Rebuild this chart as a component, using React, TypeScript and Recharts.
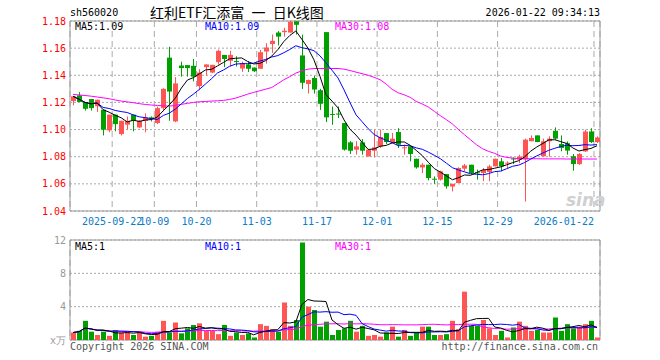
import { Bar, CartesianGrid, Cell, ComposedChart, Line, ReferenceArea, XAxis, YAxis } from "recharts";

const MONO = "'DejaVu Sans Mono', 'Liberation Mono', monospace";
const RED = "#ff5555";
const GREEN = "#00a000";

const dates = [
  "2025-09-11", "2025-09-12", "2025-09-15", "2025-09-16", "2025-09-17", "2025-09-18", "2025-09-19",
  "2025-09-22", "2025-09-23", "2025-09-24", "2025-09-25", "2025-09-26", "2025-09-29", "2025-09-30",
  "2025-10-09", "2025-10-10", "2025-10-13", "2025-10-14", "2025-10-15", "2025-10-16", "2025-10-17",
  "2025-10-20", "2025-10-21", "2025-10-22", "2025-10-23", "2025-10-24", "2025-10-27", "2025-10-28",
  "2025-10-29", "2025-10-30", "2025-10-31", "2025-11-03", "2025-11-04", "2025-11-05", "2025-11-06",
  "2025-11-07", "2025-11-10", "2025-11-11", "2025-11-12", "2025-11-13", "2025-11-14", "2025-11-17",
  "2025-11-18", "2025-11-19", "2025-11-20", "2025-11-21", "2025-11-24", "2025-11-25", "2025-11-26",
  "2025-11-27", "2025-11-28", "2025-12-01", "2025-12-02", "2025-12-03", "2025-12-04", "2025-12-05",
  "2025-12-08", "2025-12-09", "2025-12-10", "2025-12-11", "2025-12-12", "2025-12-15", "2025-12-16",
  "2025-12-17", "2025-12-18", "2025-12-19", "2025-12-22", "2025-12-23", "2025-12-24", "2025-12-25",
  "2025-12-26", "2025-12-29", "2025-12-30", "2025-12-31", "2026-01-05", "2026-01-06", "2026-01-07",
  "2026-01-08", "2026-01-09", "2026-01-12", "2026-01-13", "2026-01-14", "2026-01-15", "2026-01-16",
  "2026-01-19", "2026-01-20", "2026-01-21", "2026-01-22",
];

const open = [
  1.121, 1.1252, 1.1203, 1.1225, 1.1172, 1.1146, 1.0994, 1.111, 1.0967, 1.1036,
  1.111, 1.1016, 1.1065, 1.109, 1.1048, 1.1158, 1.153, 1.106, 1.1472, 1.1475,
  1.147, 1.132, 1.146, 1.142, 1.1497, 1.155, 1.1507, 1.1505, 1.145, 1.148,
  1.1457, 1.1448, 1.1575, 1.163, 1.1715, 1.1718, 1.1715, 1.1798, 1.1546, 1.1335,
  1.138, 1.129, 1.1718, 1.1115, 1.1118, 1.1048, 1.0906, 1.0852, 1.0906, 1.0802,
  1.0844, 1.0876, 1.0974, 1.0908, 1.0982, 1.0865, 1.0876, 1.0785, 1.0721, 1.0741,
  1.0638, 1.0631, 1.0672, 1.058, 1.0606, 1.0712, 1.0741, 1.0685, 1.068, 1.0687,
  1.0729, 1.0766, 1.0753, 1.0787, 1.0778, 1.078, 1.0914, 1.0957, 1.0803, 1.0914,
  1.0991, 1.0894, 1.09, 1.0803, 1.0746, 1.0839, 1.0986, 1.0908,
];

const close = [
  1.1245, 1.1203, 1.1153, 1.1158, 1.122, 1.0999, 1.111, 1.104, 1.1065, 1.1065,
  1.1065, 1.1065, 1.109, 1.1085, 1.1158, 1.13, 1.128, 1.134, 1.1453, 1.1453,
  1.139, 1.142, 1.148, 1.1477, 1.158, 1.152, 1.155, 1.15, 1.149, 1.1448,
  1.143, 1.157, 1.1605, 1.1654, 1.1685, 1.1728, 1.1795, 1.1772, 1.1345, 1.1365,
  1.1295, 1.119, 1.109, 1.111, 1.1113, 1.0852, 1.0844, 1.0876, 1.0844, 1.0852,
  1.0869, 1.0945, 1.0908, 1.0933, 1.0888, 1.0869, 1.082, 1.0721, 1.0741, 1.0643,
  1.0635, 1.0692, 1.0582, 1.06, 1.0717, 1.0736, 1.068, 1.068, 1.0702, 1.0729,
  1.0785, 1.0729, 1.0756, 1.0783, 1.0802, 1.0926, 1.0938, 1.0908, 1.0914, 1.0933,
  1.0933, 1.0865, 1.0845, 1.0746, 1.082, 1.0986, 1.0908, 1.0942,
];

const high = [
  1.1245, 1.1276, 1.1203, 1.1225, 1.122, 1.1146, 1.111, 1.111, 1.1065, 1.1097,
  1.111, 1.107, 1.112, 1.1097, 1.117, 1.1305, 1.161, 1.1387, 1.15, 1.1475,
  1.152, 1.1445, 1.148, 1.1477, 1.159, 1.155, 1.158, 1.154, 1.15, 1.1503,
  1.1457, 1.1587, 1.1637, 1.17, 1.1725, 1.175, 1.18, 1.18, 1.17, 1.1368,
  1.1395, 1.13, 1.1718, 1.117, 1.117, 1.1048, 1.0915, 1.0914, 1.093, 1.0852,
  1.1, 1.1, 1.0975, 1.0975, 1.101, 1.089, 1.0876, 1.0785, 1.0753, 1.0741,
  1.0655, 1.0697, 1.0672, 1.06, 1.0722, 1.0746, 1.0741, 1.0705, 1.0717, 1.0741,
  1.0785, 1.079, 1.0766, 1.0795, 1.0815, 1.0933, 1.0957, 1.0957, 1.0933, 1.095,
  1.1016, 1.0957, 1.0913, 1.082, 1.0827, 1.0999, 1.101, 1.095,
];

const low = [
  1.118, 1.1203, 1.114, 1.114, 1.113, 1.0957, 1.098, 1.0987, 1.0957, 1.1,
  1.0987, 1.101, 1.098, 1.106, 1.104, 1.1135, 1.1065, 1.1055, 1.139, 1.139,
  1.1355, 1.129, 1.1395, 1.1415, 1.148, 1.146, 1.1465, 1.1465, 1.1425, 1.1425,
  1.1425, 1.1448, 1.1486, 1.1565, 1.162, 1.1685, 1.1715, 1.17, 1.13, 1.1265,
  1.1265, 1.1145, 1.1055, 1.1035, 1.1085, 1.0845, 1.082, 1.0815, 1.0815, 1.0802,
  1.0795, 1.0865, 1.0894, 1.09, 1.0864, 1.0815, 1.0766, 1.0712, 1.068, 1.0626,
  1.06, 1.0624, 1.0565, 1.0545, 1.0606, 1.0692, 1.0672, 1.0631, 1.062, 1.062,
  1.0729, 1.0692, 1.0717, 1.0746, 1.0753, 1.047, 1.0914, 1.0908, 1.0803, 1.08,
  1.0926, 1.084, 1.0815, 1.0697, 1.0739, 1.0835, 1.0901, 1.0901,
];

// 成交量 (万)
const volume = [
  0.9, 1.1, 2.3, 1.0, 0.6, 1.0, 0.5, 1.2, 0.9, 0.9,
  0.6, 0.9, 0.4, 0.5, 1.0, 2.3, 0.9, 2.1, 0.8, 1.4,
  1.8, 2.0, 1.1, 1.1, 0.7, 1.8, 0.5, 0.9, 0.6, 0.8,
  0.3, 1.9, 1.7, 1.3, 1.0, 4.5, 1.7, 2.4, 11.7, 4.0,
  3.6, 1.6, 2.2, 0.6, 1.2, 1.4, 2.3, 1.0, 1.7, 0.5,
  0.6, 0.4, 0.9, 1.6, 0.4, 1.2, 0.5, 0.9, 1.6, 1.6,
  0.6, 0.6, 0.7, 2.3, 1.3, 5.8, 1.7, 1.7, 2.4, 1.4,
  0.6, 1.1, 0.3, 1.5, 2.2, 1.7, 1.1, 1.2, 0.9, 0.9,
  2.7, 1.1, 1.9, 1.4, 1.6, 1.9, 2.3, 0.3,
];

// MA30 as drawn (needs history before the first candle)
const ma30Price = [
  1.1259, 1.1255, 1.1251, 1.1246, 1.124, 1.1234, 1.1227, 1.1218, 1.121, 1.1204,
  1.1198, 1.1191, 1.1185, 1.1181, 1.1178, 1.1175, 1.1173, 1.1178, 1.1186, 1.1193,
  1.12, 1.1205, 1.1207, 1.121, 1.1212, 1.1215, 1.1222, 1.1232, 1.1246, 1.1261,
  1.1274, 1.1286, 1.1298, 1.131, 1.1338, 1.1367, 1.139, 1.1416, 1.1433, 1.1445,
  1.145, 1.145, 1.145, 1.145, 1.145, 1.1445, 1.1435, 1.1423, 1.1412, 1.14,
  1.1385, 1.1367, 1.1335, 1.1296, 1.1271, 1.1256, 1.1237, 1.1207, 1.1188, 1.1166,
  1.1134, 1.1102, 1.1073, 1.1041, 1.1, 1.0962, 1.0925, 1.0888, 1.0859, 1.0839,
  1.0825, 1.0805, 1.0795, 1.079, 1.0786, 1.0785, 1.0785, 1.0785, 1.0784, 1.0784,
  1.0784, 1.0784, 1.0783, 1.0783, 1.0783, 1.0783, 1.0783, 1.0783,
];

const tickDates = ["2025-09-22", "2025-10-09", "2025-10-20", "2025-11-03", "2025-11-17", "2025-12-01", "2025-12-15", "2025-12-29", "2026-01-22"];
const tickLabels = ["2025-09-22", "10-09", "10-20", "11-03", "11-17", "12-01", "12-15", "12-29", "2026-01-22"];
const priceTicks = [1.04, 1.06, 1.08, 1.1, 1.12, 1.14, 1.16, 1.18];
const volTicks = [0, 4, 8, 12];

const movingAvg = (arr: number[], n: number) =>
  arr.map((_, i) => {
    const s = arr.slice(Math.max(0, i - n + 1), i + 1);
    return s.reduce((a, b) => a + b, 0) / s.length;
  });

const ma5 = movingAvg(close, 5);
const ma10 = movingAvg(close, 10);
const vma5 = movingAvg(volume, 5);
const vma10 = movingAvg(volume, 10);
const vma30 = movingAvg(volume, 30);

const rows = dates.map((date, i) => ({
  i,
  date,
  open: open[i],
  close: close[i],
  high: high[i],
  low: low[i],
  range: [low[i], high[i]],
  ma5: ma5[i],
  ma10: ma10[i],
  ma30: ma30Price[i],
  vol: volume[i],
  vma5: vma5[i],
  vma10: vma10[i],
  vma30: vma30[i],
}));

const tickIdx = tickDates.map((d) => dates.indexOf(d));
const last = rows.length - 1;

function Candle(props: any) {
  const { x, y, width, height, payload } = props;
  const up = payload.close >= payload.open;
  const color = up ? RED : GREEN;
  const y0 = Math.min(y, y + height);
  const h = Math.abs(height);
  const span = payload.high - payload.low;
  const toY = (v: number) => (span === 0 ? y0 : y0 + ((payload.high - v) / span) * h);
  const top = toY(Math.max(payload.open, payload.close));
  const bottom = toY(Math.min(payload.open, payload.close));
  const bx = Math.round(x + width / 2 - 2.5);
  return (
    <g>
      <line x1={bx + 2.5} x2={bx + 2.5} y1={y0} y2={y0 + h} stroke={color} strokeWidth={1} />
      <rect x={bx} y={top} width={5} height={Math.max(1, bottom - top)} fill={color} />
    </g>
  );
}

function VolBar(props: any) {
  const { x, y, width, height, payload } = props;
  const color = payload.close >= payload.open ? RED : GREEN;
  const bx = Math.round(x + width / 2 - 2.5);
  return <rect x={bx} y={y} width={5} height={Math.max(0, height)} fill={color} />;
}

function DateTick(props: any) {
  const { x, y, index } = props;
  const isLast = index === tickLabels.length - 1;
  return (
    <text x={x} y={y + 14} textAnchor={isLast ? "end" : "middle"} fill="#0a7cc8" fontSize={10} fontFamily={MONO}>
      {tickLabels[index]}
    </text>
  );
}

export default function App() {
  return (
    <div style={{ position: "absolute", left: 0, top: 0, width: 660, height: 360, background: "#fff" }}>
      <div style={{ position: "absolute", left: 0, top: 0 }}>
        <ComposedChart width={660} height={360} data={rows} margin={{ top: 21, right: 60, bottom: 130, left: 0 }}>
          <XAxis dataKey="date" hide height={0} />
          <XAxis
            xAxisId="num"
            type="number"
            dataKey="i"
            domain={[0, rows.length]}
            allowDataOverflow
            ticks={tickIdx}
            interval={0}
            tick={<DateTick />}
            tickLine={false}
            axisLine={false}
            tickSize={0}
            tickMargin={0}
            height={19}
          />
          <YAxis
            domain={[1.04, 1.18]}
            allowDataOverflow
            ticks={priceTicks}
            interval={0}
            width={70}
            tickSize={0}
            tickMargin={4}
            axisLine={false}
            tickLine={false}
            tick={{ fill: "#ff0000", fontSize: 10, fontFamily: MONO }}
            tickFormatter={(v: number) => v.toFixed(2)}
          />
          <CartesianGrid vertical={false} strokeDasharray="2 2" stroke="#aaa" />
          <CartesianGrid xAxisId="num" horizontal={false} strokeDasharray="6 4" stroke="#aaa" />
          <Bar dataKey="range" shape={Candle} barSize={5} isAnimationActive={false} />
          <Line dataKey="ma30" stroke="#ff00ff" strokeWidth={1} dot={false} isAnimationActive={false} />
          <Line dataKey="ma10" stroke="#0000ff" strokeWidth={1} dot={false} isAnimationActive={false} />
          <Line dataKey="ma5" stroke="#000" strokeWidth={1} dot={false} isAnimationActive={false} />
          <ReferenceArea xAxisId="num" x1={0} x2={rows.length} y1={1.04} y2={1.18} fill="none" stroke="#999" />
        </ComposedChart>
      </div>
      <div style={{ position: "absolute", left: 0, top: 0 }}>
        <ComposedChart width={660} height={360} data={rows} margin={{ top: 240, right: 60, bottom: 20, left: 0 }}>
          <XAxis dataKey="date" hide height={0} />
          <XAxis
            xAxisId="num"
            type="number"
            dataKey="i"
            domain={[0, rows.length]}
            allowDataOverflow
            ticks={tickIdx}
            interval={0}
            tick={false}
            tickLine={false}
            axisLine={false}
            height={0}
          />
          <YAxis
            domain={[0, 12]}
            allowDataOverflow
            ticks={volTicks}
            interval={0}
            width={70}
            tickSize={0}
            tickMargin={4}
            axisLine={false}
            tickLine={false}
            tick={{ fill: "#999", fontSize: 10, fontFamily: MONO }}
            tickFormatter={(v: number) => (v === 0 ? "x万" : String(v))}
          />
          <CartesianGrid vertical={false} strokeDasharray="2 2" stroke="#aaa" />
          <CartesianGrid xAxisId="num" horizontal={false} strokeDasharray="6 4" stroke="#aaa" />
          <Bar dataKey="vol" shape={VolBar} barSize={5} isAnimationActive={false}>
            {rows.map((r) => (
              <Cell key={r.date} fill={r.close >= r.open ? RED : GREEN} />
            ))}
          </Bar>
          <Line dataKey="vma30" stroke="#ff00ff" strokeWidth={1} dot={false} isAnimationActive={false} />
          <Line dataKey="vma10" stroke="#0000ff" strokeWidth={1} dot={false} isAnimationActive={false} />
          <Line dataKey="vma5" stroke="#000" strokeWidth={1} dot={false} isAnimationActive={false} />
          <ReferenceArea xAxisId="num" x1={0} x2={rows.length} y1={0} y2={12} fill="none" stroke="#999" />
        </ComposedChart>
      </div>
      <svg width={660} height={360} style={{ position: "absolute", left: 0, top: 0, pointerEvents: "none" }}>
        <text x={70} y={16} fontSize={10} fontFamily={MONO} fill="#000">sh560020</text>
        <text x={150} y={18} fontSize={14} wordSpacing={4} fontFamily="'Noto Sans CJK SC', sans-serif" fill="#000">红利ETF汇添富 一 日K线图</text>
        <text x={600} y={16} fontSize={10} fontFamily={MONO} fill="#000" textAnchor="end">2026-01-22 09:34:13</text>
        <text x={75} y={30} fontSize={10} fontFamily={MONO} fill="#000">MA5:{ma5[last].toFixed(2)}</text>
        <text x={205} y={30} fontSize={10} fontFamily={MONO} fill="#0000ff">MA10:{ma10[last].toFixed(2)}</text>
        <text x={335} y={30} fontSize={10} fontFamily={MONO} fill="#ff00ff">MA30:{ma30Price[last].toFixed(2)}</text>
        <text x={75} y={250} fontSize={10} fontFamily={MONO} fill="#000">MA5:{Math.floor(vma5[last])}</text>
        <text x={205} y={250} fontSize={10} fontFamily={MONO} fill="#0000ff">MA10:{Math.floor(vma10[last])}</text>
        <text x={335} y={250} fontSize={10} fontFamily={MONO} fill="#ff00ff">MA30:{Math.floor(vma30[last])}</text>
        <text x={566} y={206} fontSize={17} fontStyle="italic" fontWeight="bold" fontFamily="'DejaVu Sans', sans-serif" fill="#d0d0d0">sina</text>
        <text x={70} y={350} fontSize={10} fontFamily={MONO} fill="#555">Copyright 2026 SINA.COM</text>
        <text x={598} y={350} fontSize={10} fontFamily={MONO} fill="#555" textAnchor="end">http://finance.sina.com.cn</text>
      </svg>
    </div>
  );
}
